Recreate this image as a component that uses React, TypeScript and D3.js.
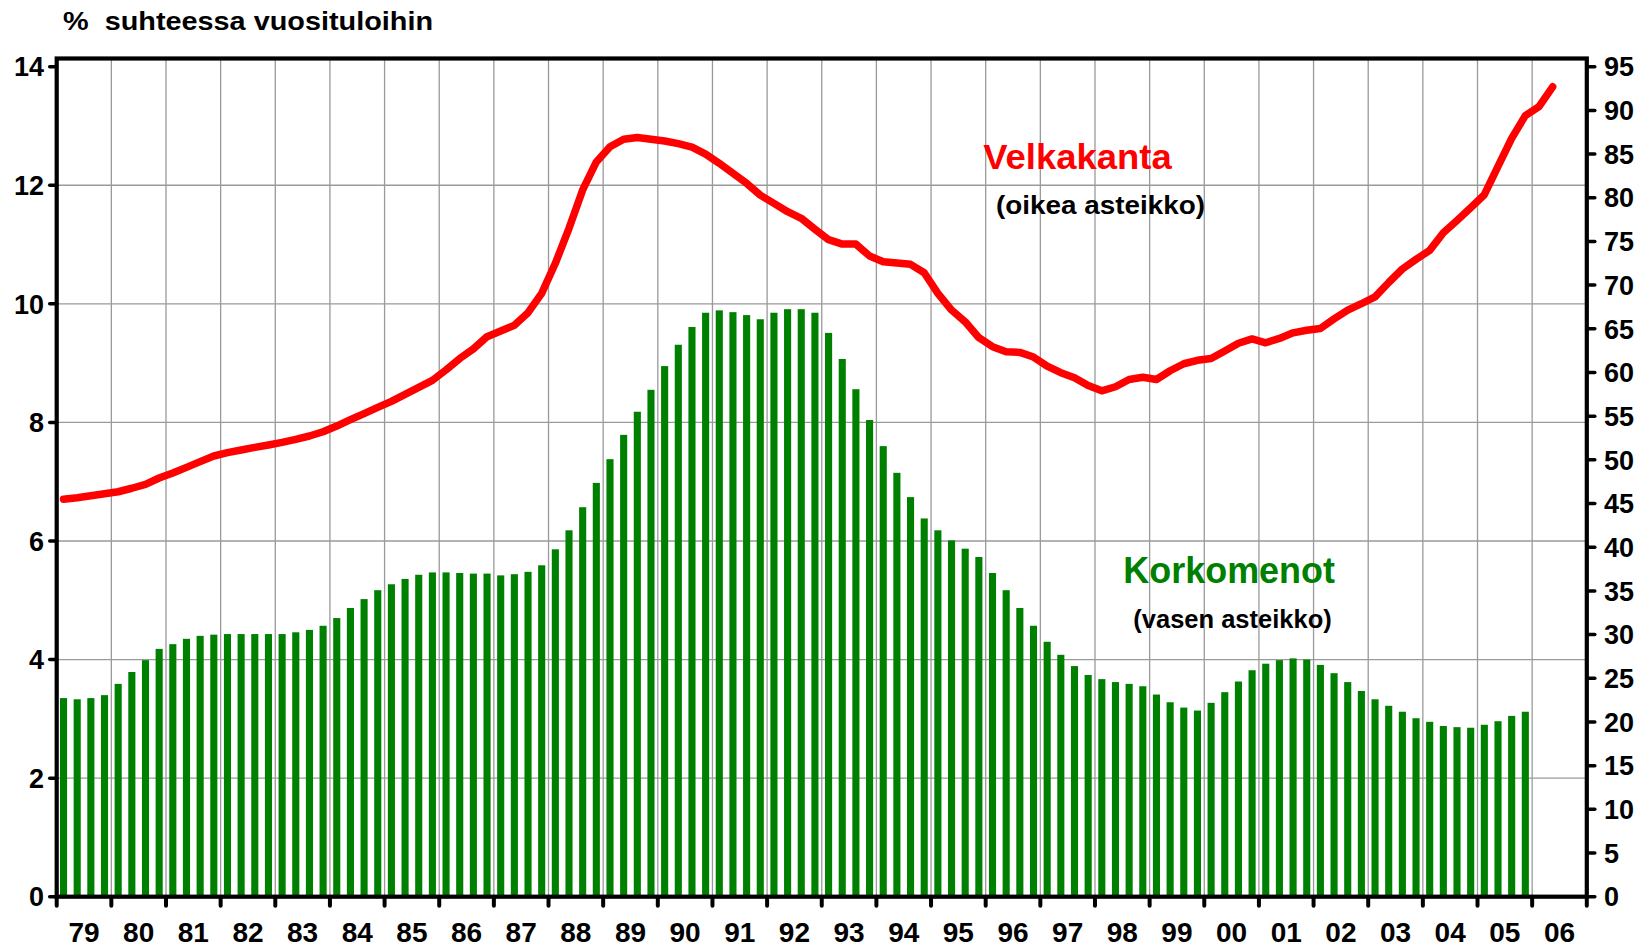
import React from "react";
import * as d3 from "d3";

// Korkomenot (left scale, %), quarterly 1979Q1 – 2005Q4
const interestQuarterly: number[] = [
  3.35, 3.33, 3.35, 3.40,
  3.59, 3.79, 3.99, 4.18,
  4.26, 4.35, 4.40, 4.42,
  4.43, 4.43, 4.43, 4.43,
  4.43, 4.46, 4.50, 4.57,
  4.70, 4.87, 5.02, 5.17,
  5.27, 5.36, 5.43, 5.47,
  5.47, 5.46, 5.45, 5.45,
  5.42, 5.44, 5.48, 5.59,
  5.86, 6.18, 6.57, 6.98,
  7.38, 7.79, 8.18, 8.55,
  8.95, 9.31, 9.61, 9.85,
  9.89, 9.86, 9.81, 9.74,
  9.85, 9.91, 9.91, 9.85,
  9.51, 9.07, 8.56, 8.04,
  7.60, 7.15, 6.74, 6.38,
  6.18, 6.01, 5.87, 5.73,
  5.46, 5.17, 4.87, 4.57,
  4.30, 4.08, 3.89, 3.74,
  3.67, 3.62, 3.59, 3.55,
  3.41, 3.28, 3.19, 3.14,
  3.27, 3.45, 3.63, 3.82,
  3.93, 3.99, 4.02, 4.00,
  3.91, 3.77, 3.62, 3.47,
  3.33, 3.22, 3.12, 3.01,
  2.95, 2.88, 2.86, 2.85,
  2.90, 2.96, 3.05, 3.12,
];

// Velkakanta (right scale, %), quarterly 1979Q1 – 2006Q2
const debtQuarterly: number[] = [
  45.5, 45.67, 45.9, 46.13,
  46.35, 46.75, 47.2, 47.92,
  48.5, 49.14, 49.8, 50.44,
  50.82, 51.13, 51.43, 51.7,
  52.0, 52.35, 52.73, 53.22,
  53.87, 54.6, 55.3, 56.0,
  56.7, 57.5, 58.3, 59.1,
  60.3, 61.6, 62.7, 64.1,
  64.75, 65.4, 66.85, 69.06,
  72.5, 76.5, 80.9, 84.1,
  85.84, 86.7, 86.9, 86.7,
  86.5, 86.2, 85.8, 85.0,
  83.94, 82.8, 81.65, 80.3,
  79.36, 78.4, 77.65, 76.4,
  75.2, 74.7, 74.7, 73.33,
  72.68, 72.53, 72.38, 71.42,
  69.06, 67.15, 65.8, 63.98,
  62.95, 62.38, 62.3, 61.77,
  60.74, 59.98, 59.4, 58.5,
  57.9, 58.37, 59.2, 59.45,
  59.2, 60.2, 61.0, 61.4,
  61.6, 62.46, 63.35, 63.84,
  63.4, 63.9, 64.54, 64.84,
  65.03, 66.13, 67.13, 67.87,
  68.66, 70.3, 71.84, 72.94,
  73.98, 76.0, 77.4, 78.86,
  80.35, 83.6, 86.8, 89.4,
  90.44, 92.7,
];

const firstYear = 1979;
const lastYearEnd = 2007;
const yearLabels: string[] = [
  "79", "80", "81", "82", "83", "84", "85", "86", "87", "88", "89", "90", "91", "92",
  "93", "94", "95", "96", "97", "98", "99", "00", "01", "02", "03", "04", "05", "06",
];
const leftTicks: number[] = [0, 2, 4, 6, 8, 10, 12, 14];
const rightTicks: number[] = [0, 5, 10, 15, 20, 25, 30, 35, 40, 45, 50, 55, 60, 65, 70, 75, 80, 85, 90, 95];

const titleText = "%  suhteessa vuosituloihin";
const debtLabel = "Velkakanta";
const debtSub = "(oikea asteikko)";
const interestLabel = "Korkomenot";
const interestSub = "(vasen asteikko)";

const W = 1645;
const H = 947;
const plotLeft = 56.7;
const plotRight = 1586.8;
const plotTop = 58.5;
const plotBottom = 896.7;
const scaleTop = 66.7;

const FONT = "'Liberation Sans', Arial, Helvetica, sans-serif";
const GREEN = "#008000";
const RED = "#ff0000";
const GRID = "#9a9a9a";

export default function App() {
  const x = d3.scaleLinear().domain([firstYear, lastYearEnd]).range([plotLeft, plotRight]);
  const yL = d3.scaleLinear().domain([0, 14]).range([plotBottom, scaleTop]);
  const yR = d3.scaleLinear().domain([0, 95]).range([plotBottom, scaleTop]);

  const qWidth = x(firstYear + 0.25) - x(firstYear);
  const barW = qWidth * 0.52;
  const qt = (i: number) => firstYear + (i + 0.5) / 4;

  const line = d3
    .line<number>()
    .x((_, i) => x(qt(i)))
    .y((d) => yR(d));

  const years = d3.range(firstYear, lastYearEnd + 1);

  return (
    <div style={{ position: "absolute", left: 0, top: 0 }}>
      <svg width={W} height={H} style={{ display: "block", background: "#fff" }} fontFamily={FONT}>
        <rect x={0} y={0} width={W} height={H} fill="#fff" />
        {/* grid */}
        {leftTicks
          .filter((t) => t > 0 && t < 14)
          .map((t) => (
            <line key={"gh" + t} x1={plotLeft} x2={plotRight} y1={yL(t)} y2={yL(t)} stroke={GRID} strokeWidth={1.3} />
          ))}
        {years
          .filter((yr) => yr > firstYear && yr < lastYearEnd)
          .map((yr) => (
            <line key={"gv" + yr} x1={x(yr)} x2={x(yr)} y1={plotTop} y2={plotBottom} stroke={GRID} strokeWidth={1.3} />
          ))}
        {/* bars */}
        {interestQuarterly.map((v, i) => (
          <rect
            key={"b" + i}
            x={x(qt(i)) - barW / 2}
            y={yL(v)}
            width={barW}
            height={plotBottom - yL(v)}
            fill={GREEN}
          />
        ))}
        {/* debt line */}
        <path
          d={line(debtQuarterly) || ""}
          fill="none"
          stroke={RED}
          strokeWidth={7.5}
          strokeLinejoin="round"
          strokeLinecap="round"
        />
        {/* frame */}
        <rect
          x={plotLeft}
          y={plotTop}
          width={plotRight - plotLeft}
          height={plotBottom - plotTop}
          fill="none"
          stroke="#000"
          strokeWidth={4.2}
        />
        {/* left ticks */}
        {leftTicks.map((t) => (
          <g key={"lt" + t}>
            <line x1={plotLeft - 7} x2={plotLeft} y1={yL(t)} y2={yL(t)} stroke="#000" strokeWidth={3.5} strokeLinecap="round" />
            <text x={44} y={yL(t)} dy="0.36em" textAnchor="end" fontSize={27} fontWeight="bold" fill="#000">
              {t}
            </text>
          </g>
        ))}
        {/* right ticks */}
        {rightTicks.map((t) => (
          <g key={"rt" + t}>
            <line x1={plotRight} x2={plotRight + 8} y1={yR(t)} y2={yR(t)} stroke="#000" strokeWidth={3.5} strokeLinecap="round" />
            <text x={1604} y={yR(t)} dy="0.36em" textAnchor="start" fontSize={27} fontWeight="bold" fill="#000">
              {t}
            </text>
          </g>
        ))}
        {/* bottom ticks */}
        {years.map((yr) => (
          <line key={"bt" + yr} x1={x(yr)} x2={x(yr)} y1={plotBottom} y2={plotBottom + 9} stroke="#000" strokeWidth={4} strokeLinecap="round" />
        ))}
        {yearLabels.map((lab, i) => (
          <text key={"yl" + lab} x={x(firstYear + i + 0.5)} y={942} textAnchor="middle" fontSize={28} fontWeight="bold" fill="#000">
            {lab}
          </text>
        ))}
        {/* title */}
        <text x={63} y={30} fontSize={26} fontWeight="bold" fill="#000" textLength={370} lengthAdjust="spacingAndGlyphs" style={{ whiteSpace: "pre" }}>
          {titleText}
        </text>
        {/* annotations */}
        <text x={983.3} y={169.3} fontSize={35.5} fontWeight="bold" fill={RED} textLength={188.4} lengthAdjust="spacingAndGlyphs">
          {debtLabel}
        </text>
        <text x={996} y={213.5} fontSize={26.5} fontWeight="bold" fill="#000" textLength={209} lengthAdjust="spacingAndGlyphs">
          {debtSub}
        </text>
        <text x={1123.3} y={583.3} fontSize={36} fontWeight="bold" fill={GREEN} textLength={211.7} lengthAdjust="spacingAndGlyphs">
          {interestLabel}
        </text>
        <text x={1133.3} y={628.3} fontSize={26.5} fontWeight="bold" fill="#000" textLength={198.4} lengthAdjust="spacingAndGlyphs">
          {interestSub}
        </text>
      </svg>
    </div>
  );
}
